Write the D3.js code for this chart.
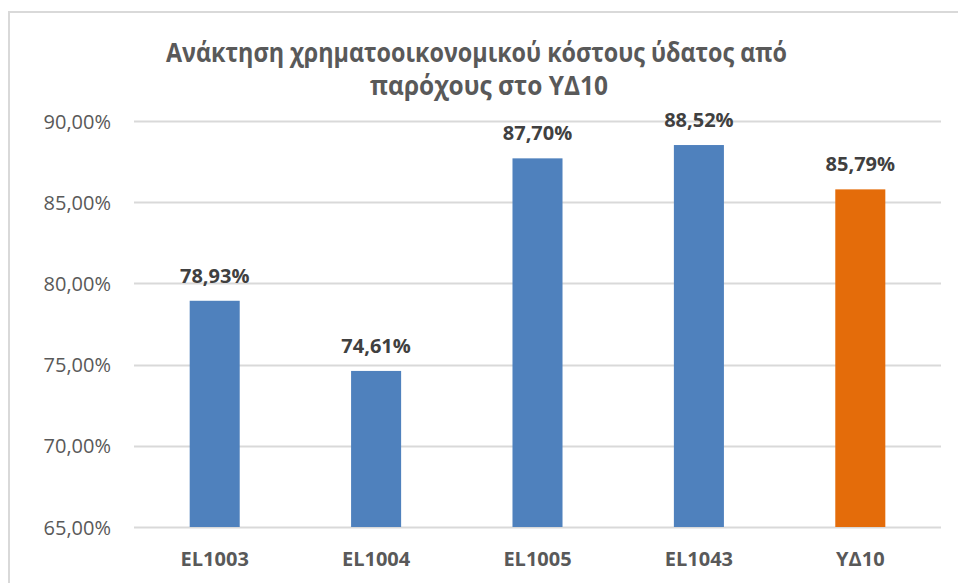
<!DOCTYPE html>
<html><head><meta charset="utf-8">
<script src="https://cdn.jsdelivr.net/npm/d3@7"></script>
<style>html,body{margin:0;padding:0;background:#fff;}svg{display:block;}</style>
</head><body>
<script>
const categories = ["EL1003", "EL1004", "EL1005", "EL1043", "ΥΔ10"];
const values = [78.93, 74.61, 87.70, 88.52, 85.79];
const barColors = ["#4f81bd", "#4f81bd", "#4f81bd", "#4f81bd", "#e46c0a"];
const yTicks = [65, 70, 75, 80, 85, 90];
const titleLines = ["Ανάκτηση χρηματοοικονομικού κόστους ύδατος από", "παρόχους στο ΥΔ10"];

(function () {
const W = 958, H = 583;
const svg = d3.select("body").append("svg").attr("width", W).attr("height", H);

// chart frame
svg.append("rect").attr("x", 9).attr("y", 12).attr("width", 960).attr("height", 600)
  .attr("fill", "#fff").attr("stroke", "#d9d9d9").attr("stroke-width", 2);

const pL = 134, pR = 941, pT = 121, pB = 527;
const fmt = v => v.toFixed(2).replace(".", ",") + "%";
const sans = "'Open Sans', 'Noto Sans', sans-serif";

const x = d3.scaleBand().domain(categories).range([pL, pR]).paddingInner(0.69).paddingOuter(0.345);
const y = d3.scaleLinear().domain([65, 90]).range([pB, pT]);

// gridlines
svg.append("g").selectAll("line").data(yTicks).join("line")
  .attr("x1", pL).attr("x2", pR)
  .attr("y1", d => Math.round(y(d)) + 0.5).attr("y2", d => Math.round(y(d)) + 0.5)
  .attr("stroke", "#d9d9d9").attr("stroke-width", 2);

// y axis labels
const yAxis = d3.axisLeft(y).tickValues(yTicks).tickFormat(fmt).tickSize(0).tickPadding(23);
const ya = svg.append("g").attr("transform", `translate(${pL},0)`).call(yAxis);
ya.select(".domain").remove();
ya.selectAll("text").attr("font-family", sans)
  .attr("font-size", 20).attr("fill", "#595959").attr("dy", "0.35em");

// bars
svg.append("g").selectAll("rect").data(values).join("rect")
  .attr("x", (d, i) => x(categories[i]))
  .attr("width", x.bandwidth())
  .attr("y", d => y(d))
  .attr("height", d => y(65) - y(d))
  .attr("fill", (d, i) => barColors[i]);

// data labels
svg.append("g").selectAll("text").data(values).join("text")
  .attr("x", (d, i) => x(categories[i]) + x.bandwidth() / 2)
  .attr("y", d => y(d) - 18)
  .attr("text-anchor", "middle")
  .attr("font-family", sans)
  .attr("font-weight", "bold").attr("font-size", 20).attr("fill", "#404040")
  .text(d => fmt(d));

// x axis labels
const xAxis = d3.axisBottom(x).tickSize(0).tickPadding(25);
const xa = svg.append("g").attr("transform", `translate(0,${pB})`).call(xAxis);
xa.select(".domain").remove();
xa.selectAll("text").attr("font-family", sans)
  .attr("font-weight", "bold").attr("font-size", 20).attr("fill", "#595959");

// title
const tx = [166, 370], tw = [621, 238], tyy = [62, 95];
svg.append("g").selectAll("text").data(titleLines).join("text")
  .attr("x", (d, i) => tx[i]).attr("y", (d, i) => tyy[i])
  .attr("textLength", (d, i) => tw[i]).attr("lengthAdjust", "spacingAndGlyphs")
  .attr("font-family", sans)
  .attr("font-weight", "bold").attr("font-size", 26).attr("fill", "#595959")
  .text(d => d);
})();
</script>
</body></html>
